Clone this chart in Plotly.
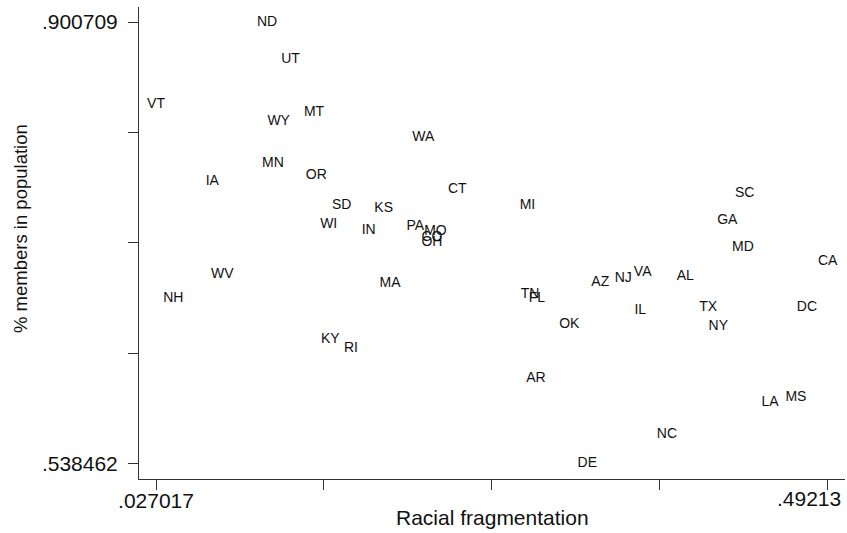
import plotly.graph_objects as go

# state labels, racial fragmentation (x) and share of members in population (y)
states = ["ND", "UT", "VT", "WY", "MT", "WA", "MN", "OR", "IA", "SD", "KS",
          "WI", "IN", "PA", "MO", "CO", "OH", "CT", "MI", "SC", "GA", "MD",
          "CA", "WV", "NH", "MA", "KY", "RI", "AZ", "NJ", "VA", "AL", "TN",
          "FL", "IL", "TX", "DC", "OK", "NY", "AR", "LA", "MS", "NC", "DE"]
frag = [0.10388, 0.12015, 0.027017, 0.11198, 0.13642, 0.21211, 0.10803,
        0.13802, 0.06600, 0.15560, 0.18469, 0.14660, 0.17430, 0.20657,
        0.22055, 0.21813, 0.21813, 0.23565, 0.28426, 0.43466, 0.42261,
        0.43348, 0.49213, 0.07293, 0.03900, 0.18905, 0.14771, 0.16204,
        0.33467, 0.35059, 0.36403, 0.39353, 0.28599, 0.29084, 0.36237,
        0.40945, 0.47780, 0.31320, 0.41638, 0.29014, 0.45218, 0.47018,
        0.38085, 0.32567]
members = [0.900709, 0.86998, 0.83306, 0.81944, 0.82625, 0.80574, 0.78465,
           0.77480, 0.77021, 0.75052, 0.74773, 0.73460, 0.72968, 0.73329,
           0.72919, 0.72369, 0.71959, 0.76332, 0.75052, 0.76004, 0.73788,
           0.71606, 0.70457, 0.69358, 0.67388, 0.68595, 0.64024, 0.63261,
           0.68734, 0.69005, 0.69497, 0.69226, 0.67717, 0.67364, 0.66404,
           0.66683, 0.66683, 0.65255, 0.65124, 0.60825, 0.58888, 0.59241,
           0.56230, 0.538462]

xmin, xmax = min(frag), max(frag)
ymin, ymax = min(members), max(members)
xticks = [xmin + i * (xmax - xmin) / 4 for i in range(5)]
yticks = [ymin + i * (ymax - ymin) / 4 for i in range(5)]
xticktext = [".027017", "", "", "", ""]
yticktext = [".538462", "", "", "", ".900709"]

FONT = "Liberation Sans, Arial"
INK = "#111"

fig = go.Figure()
fig.add_trace(go.Scatter(
    x=frag, y=members, text=states, mode="text",
    textposition="middle center",
    textfont=dict(family=FONT, size=14, color="#111"),
    hoverinfo="text+x+y", showlegend=False))

xpad = (xmax - xmin) * 17 / 671.7
fig.update_xaxes(
    range=[xmin - xpad, xmax + xpad * 1.02],
    tickvals=xticks, ticktext=xticktext,
    ticks="outside", ticklen=10, tickwidth=1, tickcolor="#333",
    ticklabelstandoff=-7,
    showline=True, linecolor="#333", linewidth=1,
    showgrid=False, zeroline=False, automargin=False,
    tickfont=dict(family=FONT, size=21, color=INK))
ypad = (ymax - ymin) * 15.5 / 441.5
fig.update_yaxes(
    range=[ymin - ypad, ymax + ypad * 0.97],
    tickvals=yticks, ticktext=yticktext,
    ticks="outside", ticklen=10, tickwidth=1, tickcolor="#333",
    ticklabelstandoff=6,
    showline=True, linecolor="#333", linewidth=1,
    showgrid=False, zeroline=False, automargin=False,
    tickfont=dict(family=FONT, size=21, color=INK))

fig.update_layout(
    width=847, height=533,
    margin=dict(l=139, r=2, t=7, b=54),
    paper_bgcolor="white", plot_bgcolor="white",
    annotations=[
        # last x tick label, pushed left so it stays inside the page
        dict(text=".49213", x=xmax, xref="x", y=(479 - 499) / 472,
             yref="paper", xanchor="right", yanchor="middle", xshift=15,
             showarrow=False, font=dict(family=FONT, size=21, color=INK)),
        dict(text="Racial fragmentation", xref="paper", yref="paper",
             x=(492 - 139) / 706, y=(479 - 517) / 472, showarrow=False,
             xanchor="center", yanchor="middle",
             font=dict(family=FONT, size=21, color=INK)),
        dict(text="% members in population", xref="paper", yref="paper",
             x=(21 - 139) / 706, y=(479 - 229) / 472, showarrow=False,
             textangle=-90, xanchor="center", yanchor="middle",
             font=dict(family=FONT, size=18.5, color=INK)),
    ])

# drop the default page margin so the figure sits at the window's corner
fig.write_html("out.html", config={"displayModeBar": False},
               post_script="document.body.style.margin='0';"
                           "document.body.style.overflow='hidden';")
